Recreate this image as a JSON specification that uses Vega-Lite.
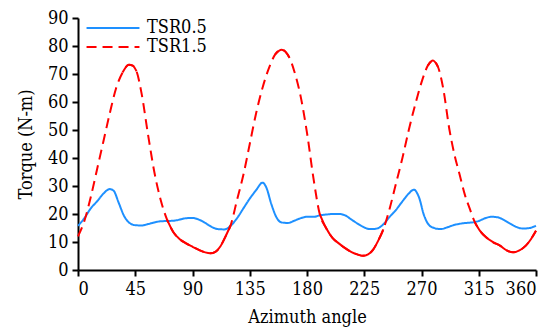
{
  "$schema": "https://vega.github.io/schema/vega-lite/v6.json",
  "width": 458,
  "height": 252,
  "autosize": {"type": "none"},
  "padding": {"left": 78, "top": 18, "right": 15, "bottom": 59},
  "background": "white",
  "config": {
    "view": {"stroke": null},
    "font": "DejaVu Serif Condensed",
    "axis": {"grid": false, "domainColor": "black", "domainWidth": 2, "tickColor": "black", "tickWidth": 2, "tickSize": 6, "labelColor": "black", "labelFont": "DejaVu Serif Condensed", "labelFontSize": 18, "titleFont": "DejaVu Serif Condensed", "titleFontSize": 18, "titleFontWeight": "normal", "titleColor": "black"}
  },
  "datasets": {
    "torque": [
      {"angle": 0, "torque": 15.8, "series": "TSR0.5"},
      {"angle": 5, "torque": 18.5, "series": "TSR0.5"},
      {"angle": 10, "torque": 22, "series": "TSR0.5"},
      {"angle": 15, "torque": 24.5, "series": "TSR0.5"},
      {"angle": 20, "torque": 27.3, "series": "TSR0.5"},
      {"angle": 25, "torque": 28.9, "series": "TSR0.5"},
      {"angle": 28, "torque": 28.3, "series": "TSR0.5"},
      {"angle": 32, "torque": 24, "series": "TSR0.5"},
      {"angle": 36, "torque": 19.5, "series": "TSR0.5"},
      {"angle": 40, "torque": 17, "series": "TSR0.5"},
      {"angle": 45, "torque": 16, "series": "TSR0.5"},
      {"angle": 50, "torque": 15.9, "series": "TSR0.5"},
      {"angle": 55, "torque": 16.4, "series": "TSR0.5"},
      {"angle": 60, "torque": 17, "series": "TSR0.5"},
      {"angle": 65, "torque": 17.4, "series": "TSR0.5"},
      {"angle": 70, "torque": 17.5, "series": "TSR0.5"},
      {"angle": 75, "torque": 17.6, "series": "TSR0.5"},
      {"angle": 80, "torque": 18, "series": "TSR0.5"},
      {"angle": 85, "torque": 18.5, "series": "TSR0.5"},
      {"angle": 90, "torque": 18.6, "series": "TSR0.5"},
      {"angle": 95, "torque": 18, "series": "TSR0.5"},
      {"angle": 100, "torque": 16.8, "series": "TSR0.5"},
      {"angle": 105, "torque": 15.4, "series": "TSR0.5"},
      {"angle": 110, "torque": 14.6, "series": "TSR0.5"},
      {"angle": 115, "torque": 14.5, "series": "TSR0.5"},
      {"angle": 120, "torque": 15.8, "series": "TSR0.5"},
      {"angle": 125, "torque": 18.5, "series": "TSR0.5"},
      {"angle": 130, "torque": 22, "series": "TSR0.5"},
      {"angle": 135, "torque": 25.5, "series": "TSR0.5"},
      {"angle": 140, "torque": 28.5, "series": "TSR0.5"},
      {"angle": 145, "torque": 31.2, "series": "TSR0.5"},
      {"angle": 148, "torque": 29.5, "series": "TSR0.5"},
      {"angle": 152, "torque": 23.5, "series": "TSR0.5"},
      {"angle": 156, "torque": 18.8, "series": "TSR0.5"},
      {"angle": 160, "torque": 17, "series": "TSR0.5"},
      {"angle": 165, "torque": 16.8, "series": "TSR0.5"},
      {"angle": 170, "torque": 17.6, "series": "TSR0.5"},
      {"angle": 175, "torque": 18.5, "series": "TSR0.5"},
      {"angle": 180, "torque": 19, "series": "TSR0.5"},
      {"angle": 185, "torque": 19, "series": "TSR0.5"},
      {"angle": 190, "torque": 19.5, "series": "TSR0.5"},
      {"angle": 195, "torque": 19.8, "series": "TSR0.5"},
      {"angle": 200, "torque": 20, "series": "TSR0.5"},
      {"angle": 205, "torque": 20, "series": "TSR0.5"},
      {"angle": 210, "torque": 19.5, "series": "TSR0.5"},
      {"angle": 215, "torque": 18, "series": "TSR0.5"},
      {"angle": 220, "torque": 16.5, "series": "TSR0.5"},
      {"angle": 225, "torque": 15.2, "series": "TSR0.5"},
      {"angle": 230, "torque": 14.6, "series": "TSR0.5"},
      {"angle": 235, "torque": 14.8, "series": "TSR0.5"},
      {"angle": 240, "torque": 16.3, "series": "TSR0.5"},
      {"angle": 245, "torque": 19, "series": "TSR0.5"},
      {"angle": 250, "torque": 21.5, "series": "TSR0.5"},
      {"angle": 255, "torque": 24.5, "series": "TSR0.5"},
      {"angle": 260, "torque": 27.3, "series": "TSR0.5"},
      {"angle": 264, "torque": 28.7, "series": "TSR0.5"},
      {"angle": 268, "torque": 26, "series": "TSR0.5"},
      {"angle": 272, "torque": 19.5, "series": "TSR0.5"},
      {"angle": 276, "torque": 16, "series": "TSR0.5"},
      {"angle": 280, "torque": 15, "series": "TSR0.5"},
      {"angle": 285, "torque": 14.6, "series": "TSR0.5"},
      {"angle": 290, "torque": 15.2, "series": "TSR0.5"},
      {"angle": 295, "torque": 16, "series": "TSR0.5"},
      {"angle": 300, "torque": 16.5, "series": "TSR0.5"},
      {"angle": 305, "torque": 16.8, "series": "TSR0.5"},
      {"angle": 310, "torque": 17, "series": "TSR0.5"},
      {"angle": 315, "torque": 17.5, "series": "TSR0.5"},
      {"angle": 320, "torque": 18.5, "series": "TSR0.5"},
      {"angle": 325, "torque": 19, "series": "TSR0.5"},
      {"angle": 330, "torque": 18.8, "series": "TSR0.5"},
      {"angle": 335, "torque": 17.8, "series": "TSR0.5"},
      {"angle": 340, "torque": 16.5, "series": "TSR0.5"},
      {"angle": 345, "torque": 15.3, "series": "TSR0.5"},
      {"angle": 350, "torque": 14.8, "series": "TSR0.5"},
      {"angle": 355, "torque": 15, "series": "TSR0.5"},
      {"angle": 360, "torque": 15.8, "series": "TSR0.5"},

      {"angle": 0, "torque": 12, "series": "TSR1.5"},
      {"angle": 5, "torque": 17.5, "series": "TSR1.5"},
      {"angle": 10, "torque": 26, "series": "TSR1.5"},
      {"angle": 15, "torque": 36, "series": "TSR1.5"},
      {"angle": 20, "torque": 46, "series": "TSR1.5"},
      {"angle": 25, "torque": 56, "series": "TSR1.5"},
      {"angle": 30, "torque": 65, "series": "TSR1.5"},
      {"angle": 35, "torque": 70.5, "series": "TSR1.5"},
      {"angle": 40, "torque": 73.3, "series": "TSR1.5"},
      {"angle": 43, "torque": 73, "series": "TSR1.5"},
      {"angle": 46, "torque": 71, "series": "TSR1.5"},
      {"angle": 50, "torque": 63, "series": "TSR1.5"},
      {"angle": 55, "torque": 48.5, "series": "TSR1.5"},
      {"angle": 60, "torque": 35, "series": "TSR1.5"},
      {"angle": 65, "torque": 25, "series": "TSR1.5"},
      {"angle": 70, "torque": 18, "series": "TSR1.5"},
      {"angle": 75, "torque": 13.5, "series": "TSR1.5"},
      {"angle": 80, "torque": 11, "series": "TSR1.5"},
      {"angle": 85, "torque": 9.5, "series": "TSR1.5"},
      {"angle": 90, "torque": 8.3, "series": "TSR1.5"},
      {"angle": 95, "torque": 7.2, "series": "TSR1.5"},
      {"angle": 100, "torque": 6.3, "series": "TSR1.5"},
      {"angle": 104, "torque": 6, "series": "TSR1.5"},
      {"angle": 108, "torque": 6.5, "series": "TSR1.5"},
      {"angle": 112, "torque": 8.5, "series": "TSR1.5"},
      {"angle": 116, "torque": 12, "series": "TSR1.5"},
      {"angle": 120, "torque": 16, "series": "TSR1.5"},
      {"angle": 125, "torque": 25, "series": "TSR1.5"},
      {"angle": 130, "torque": 34, "series": "TSR1.5"},
      {"angle": 135, "torque": 45, "series": "TSR1.5"},
      {"angle": 140, "torque": 56, "series": "TSR1.5"},
      {"angle": 145, "torque": 65, "series": "TSR1.5"},
      {"angle": 150, "torque": 72, "series": "TSR1.5"},
      {"angle": 155, "torque": 77, "series": "TSR1.5"},
      {"angle": 160, "torque": 78.7, "series": "TSR1.5"},
      {"angle": 163, "torque": 78, "series": "TSR1.5"},
      {"angle": 166, "torque": 76, "series": "TSR1.5"},
      {"angle": 170, "torque": 71, "series": "TSR1.5"},
      {"angle": 175, "torque": 62, "series": "TSR1.5"},
      {"angle": 180, "torque": 49, "series": "TSR1.5"},
      {"angle": 185, "torque": 33, "series": "TSR1.5"},
      {"angle": 190, "torque": 20, "series": "TSR1.5"},
      {"angle": 195, "torque": 15, "series": "TSR1.5"},
      {"angle": 200, "torque": 11.5, "series": "TSR1.5"},
      {"angle": 205, "torque": 9.5, "series": "TSR1.5"},
      {"angle": 210, "torque": 7.8, "series": "TSR1.5"},
      {"angle": 215, "torque": 6.4, "series": "TSR1.5"},
      {"angle": 220, "torque": 5.5, "series": "TSR1.5"},
      {"angle": 224, "torque": 5.1, "series": "TSR1.5"},
      {"angle": 228, "torque": 5.6, "series": "TSR1.5"},
      {"angle": 232, "torque": 7.3, "series": "TSR1.5"},
      {"angle": 236, "torque": 10.5, "series": "TSR1.5"},
      {"angle": 240, "torque": 14.5, "series": "TSR1.5"},
      {"angle": 245, "torque": 22, "series": "TSR1.5"},
      {"angle": 250, "torque": 31, "series": "TSR1.5"},
      {"angle": 255, "torque": 40, "series": "TSR1.5"},
      {"angle": 260, "torque": 50, "series": "TSR1.5"},
      {"angle": 265, "torque": 59, "series": "TSR1.5"},
      {"angle": 270, "torque": 67, "series": "TSR1.5"},
      {"angle": 275, "torque": 73, "series": "TSR1.5"},
      {"angle": 279, "torque": 74.8, "series": "TSR1.5"},
      {"angle": 283, "torque": 72.5, "series": "TSR1.5"},
      {"angle": 287, "torque": 65, "series": "TSR1.5"},
      {"angle": 292, "torque": 50, "series": "TSR1.5"},
      {"angle": 296, "torque": 41, "series": "TSR1.5"},
      {"angle": 300, "torque": 34, "series": "TSR1.5"},
      {"angle": 304, "torque": 27, "series": "TSR1.5"},
      {"angle": 308, "torque": 21.8, "series": "TSR1.5"},
      {"angle": 312, "torque": 17, "series": "TSR1.5"},
      {"angle": 316, "torque": 14, "series": "TSR1.5"},
      {"angle": 321, "torque": 11.6, "series": "TSR1.5"},
      {"angle": 326, "torque": 10, "series": "TSR1.5"},
      {"angle": 332, "torque": 8.6, "series": "TSR1.5"},
      {"angle": 337, "torque": 7, "series": "TSR1.5"},
      {"angle": 342, "torque": 6.3, "series": "TSR1.5"},
      {"angle": 347, "torque": 7, "series": "TSR1.5"},
      {"angle": 352, "torque": 8.7, "series": "TSR1.5"},
      {"angle": 356, "torque": 11, "series": "TSR1.5"},
      {"angle": 360, "torque": 14, "series": "TSR1.5"}
    ]
  },
  "data": {"name": "torque"},
  "encoding": {
    "x": {"field": "angle", "type": "quantitative", "scale": {"domain": [0, 360], "nice": false}, "axis": {"values": [0, 45, 90, 135, 180, 225, 270, 315, 360], "title": "Azimuth angle", "titlePadding": 10, "labelPadding": 4}},
    "y": {"field": "torque", "type": "quantitative", "scale": {"domain": [0, 90], "nice": false}, "axis": {"values": [0, 10, 20, 30, 40, 50, 60, 70, 80, 90], "title": "Torque (N-m)", "titlePadding": 12, "labelPadding": 4}}
  },
  "layer": [
    {
      "mark": {"type": "line", "interpolate": "monotone", "strokeWidth": 2},
      "encoding": {
        "color": {"field": "series", "type": "nominal", "scale": {"domain": ["TSR0.5", "TSR1.5"], "range": ["#1E90FF", "#FF0000"]}, "legend": {"title": null, "orient": "none", "legendX": 26, "legendY": 1, "symbolType": "M-4,0H4", "symbolSize": 175, "symbolStrokeWidth": 2, "labelFont": "DejaVu Serif Condensed", "labelFontSize": 18, "labelColor": "black", "rowPadding": 1, "labelOffset": 25}},
        "strokeDash": {"field": "series", "type": "nominal", "scale": {"domain": ["TSR0.5", "TSR1.5"], "range": [[1, 0], [10, 6]]}, "legend": {"title": null, "orient": "none", "legendX": 26, "legendY": 1, "symbolType": "M-4,0H4", "symbolSize": 175, "symbolStrokeWidth": 2, "labelFont": "DejaVu Serif Condensed", "labelFontSize": 18, "labelColor": "black", "rowPadding": 1, "labelOffset": 25}}
      }
    },
    {
      "transform": [
        {"filter": "datum.series == 'TSR1.5'"},
        {"calculate": "datum.angle >= 35 && datum.angle <= 46 ? 'p1' : datum.angle >= 70 && datum.angle <= 120 ? 'v1' : datum.angle >= 155 && datum.angle <= 166 ? 'p2' : datum.angle >= 190 && datum.angle <= 240 ? 'v2' : datum.angle >= 275 && datum.angle <= 283 ? 'p3' : datum.angle >= 312 ? 'v3' : null", "as": "seg"},
        {"filter": "datum.seg != null"}
      ],
      "mark": {"type": "line", "interpolate": "monotone", "strokeWidth": 2, "color": "#FF0000"},
      "encoding": {"detail": {"field": "seg", "type": "nominal"}}
    }
  ]
}
